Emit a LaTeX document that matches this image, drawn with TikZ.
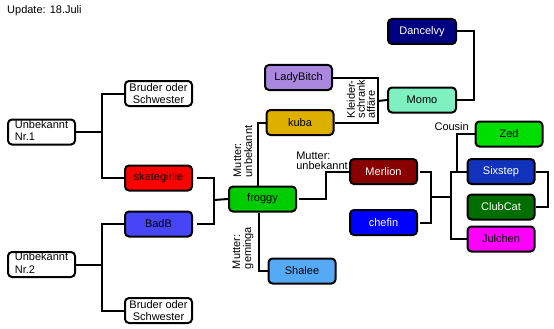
\documentclass[tikz,border=0pt]{standalone}
\usepackage{fontspec}
\setmainfont{Liberation Sans}
\begin{document}
\begin{tikzpicture}[x=1pt,y=-1pt,
  box/.style={draw, line width=2pt, rounded corners=4pt, minimum width=67pt, minimum height=25pt,
    inner sep=0pt, align=center, font=\fontsize{11}{12.5}\selectfont},
  lbl/.style={inner sep=0pt, font=\fontsize{11}{10.5}\selectfont},
  conn/.style={line width=2pt}]
\useasboundingbox (0,0) rectangle (554,329);
\definecolor{cSk}{HTML}{FF0000}
\definecolor{cBadB}{HTML}{4646F8}
\definecolor{cFrog}{HTML}{00CC00}
\definecolor{cKuba}{HTML}{DDB000}
\definecolor{cLady}{HTML}{AA88DD}
\definecolor{cShalee}{HTML}{55AAF5}
\definecolor{cMerlion}{HTML}{880000}
\definecolor{cChefin}{HTML}{0000FF}
\definecolor{cDance}{HTML}{000080}
\definecolor{cMomo}{HTML}{7FF0C0}
\definecolor{cZed}{HTML}{00DD00}
\definecolor{cSix}{HTML}{1133BB}
\definecolor{cClub}{HTML}{006F00}
\definecolor{cJul}{HTML}{FF00FF}

\node[lbl, anchor=west] (upd) at (7,10.5) {Update: 18.Juli};

\node[box, fill=white] (u1) at (41.5,132) {\begin{tabular}{@{}l@{}}Unbekannt\\Nr.1\end{tabular}};
\node[box, fill=white] (bs1) at (158.5,93.5) {Bruder oder\\Schwester};
\node[box, fill=cSk] (sk) at (158.5,178) {skategirlie};
\node[box, fill=cBadB] (badb) at (158.5,224) {BadB};
\node[box, fill=white] (u2) at (41.5,264.5) {\begin{tabular}{@{}l@{}}Unbekannt\\Nr.2\end{tabular}};
\node[box, fill=white] (bs2) at (158.5,310.5) {Bruder oder\\Schwester};
\node[box, fill=cFrog] (froggy) at (262.5,199) {froggy};
\node[box, fill=cKuba] (kuba) at (300,122.5) {kuba};
\node[box, fill=cLady] (lady) at (298.5,77.5) {LadyBitch};
\node[box, fill=cShalee] (shalee) at (302,271) {Shalee};
\node[box, fill=cMerlion, text=white] (merlion) at (383.5,171.5) {Merlion};
\node[box, fill=cChefin, text=white] (chefin) at (383.5,222.5) {chefin};
\node[box, fill=cDance, text=white, minimum width=68pt] (dancelvy) at (422,31.5) {Dancelvy};
\node[box, fill=cMomo, minimum width=68pt] (momo) at (422,100) {Momo};
\node[box, fill=cZed] (zed) at (509,134) {Zed};
\node[box, fill=cSix, text=white] (sixstep) at (501,171.5) {Sixstep};
\node[box, fill=cClub, text=white] (clubcat) at (501,207) {ClubCat};
\node[box, fill=cJul] (julchen) at (501,239) {Julchen};

\node[lbl, rotate=90, align=left, font=\fontsize{11}{11}\selectfont] (m1) at (243,151.5) {Mutter:\\unbekannt};
\node[lbl, rotate=90, align=left, font=\fontsize{11}{11}\selectfont] (m2) at (243,248) {Mutter:\\geminga};
\node[lbl, align=left] (m3) at (322,161) {Mutter:\\unbekannt};
\node[lbl, anchor=east] (cousin) at (469,127) {Cousin};
\node[lbl, rotate=90, align=left, font=\fontsize{11}{10}\selectfont] (kl) at (361,99) {Kleider-\\schrank\\affäre};

\coordinate (j1) at (102,132);
\coordinate (j2) at (102,264.5);
\coordinate (j3) at (214,200);
\coordinate (j4) at (326,199);
\coordinate (j5) at (378,101);
\coordinate (j6) at (473.5,66);
\coordinate (j7) at (431,196.5);
\coordinate (j8) at (451,196.5);
\coordinate (j9) at (457,171.5);
\coordinate (j10) at (548,189);

\draw[conn] (u1.east) -- (j1);
\draw[conn] (bs1.west) -| (j1) |- (sk.west);
\draw[conn] (u2.east) -- (j2);
\draw[conn] (badb.west) -| (j2) |- (bs2.west);
\draw[conn, shorten <=4pt, shorten >=4pt] (sk.east) -| (j3) |- (badb.east);
\draw[conn] (j3) -- (froggy.west);
\draw[conn] ([xshift=-4.5pt]froggy.north) |- (kuba.west);
\draw[conn] ([xshift=-4pt]froggy.south) |- (shalee.west);
\draw[conn, shorten <=2pt] (froggy.east) -- (j4) |- (merlion.west);
\draw[conn] (lady.east) -| (j5) |- (kuba.east);
\draw[conn] (j5) -- (momo.west);
\draw[conn] (dancelvy.east) -| (j6) |- (momo.east);
\draw[conn, shorten <=2pt, shorten >=2pt] (merlion.east) -| (j7) |- (chefin.east);
\draw[conn] (j7) -- (j8);
\draw[conn] (sixstep.west) -| (j8) |- (julchen.west);
\draw[conn] (zed.west) -| (j9);
\draw[conn] (sixstep.east) -| (j10) |- (clubcat.east);
\end{tikzpicture}
\end{document}
